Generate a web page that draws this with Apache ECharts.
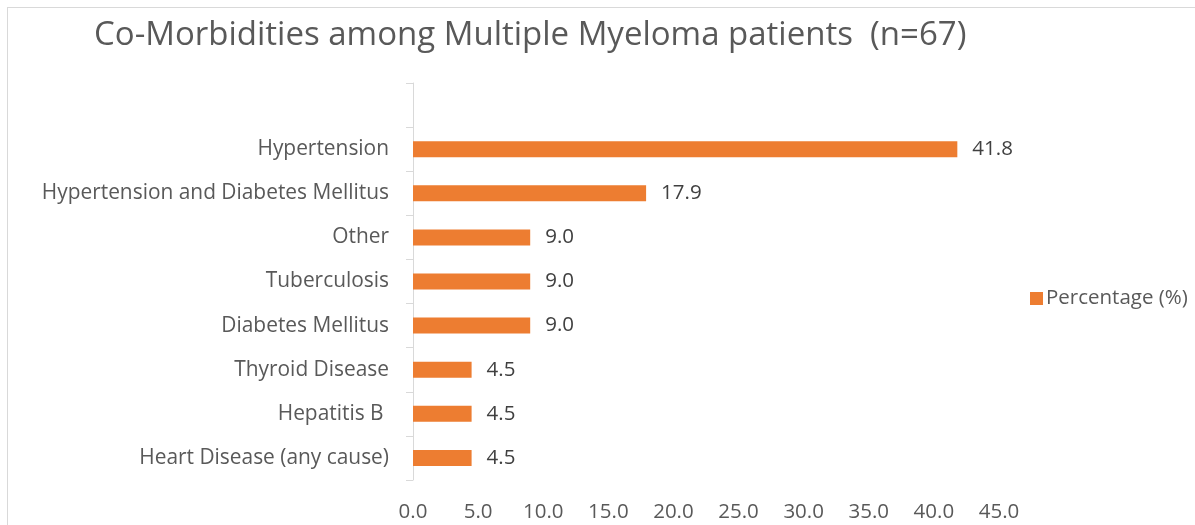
<!DOCTYPE html>
<html><head><meta charset="utf-8">
<script src="https://cdn.jsdelivr.net/npm/echarts@6/dist/echarts.min.js"></script>
<style>
html,body{margin:0;padding:0;background:#fff;overflow:hidden}
#frame{position:absolute;left:7px;top:7px;width:1300px;height:600px;border:1px solid #d9d9d9;box-sizing:border-box}
#c{position:absolute;left:0;top:0;width:1195px;height:525px}
</style></head>
<body><div id="frame"></div><div id="c"></div>
<script>
var title = 'Co-Morbidities among Multiple Myeloma patients  (n=67)';
var seriesName = 'Percentage (%)';
var categories = ['', 'Hypertension', 'Hypertension and Diabetes Mellitus', 'Other', 'Tuberculosis', 'Diabetes Mellitus', 'Thyroid Disease', 'Hepatitis B ', 'Heart Disease (any cause)'];
var values = [null, 41.8, 17.9, 9.0, 9.0, 9.0, 4.5, 4.5, 4.5];
var xMin = 0, xMax = 45, xStep = 5;

var font = 'Open Sans';
var fs = 20.5;
var chart = echarts.init(document.getElementById('c'), null, {renderer:'canvas'});
chart.setOption({
  animation:false,
  backgroundColor:'transparent',
  title:{text:title,left:89,top:14,textStyle:{fontFamily:font,fontSize:33,fontWeight:'normal',color:'#595959'}},
  legend:{data:[seriesName],left:1025,top:283,orient:'vertical',icon:'rect',itemWidth:13,itemHeight:13,itemGap:6,
    textStyle:{fontFamily:font,fontSize:fs,color:'#595959',padding:[0,0,0,-2]}},
  grid:{left:413,right:196,top:83,bottom:45,containLabel:false},
  xAxis:{type:'value',min:xMin,max:xMax,interval:xStep,
    axisLine:{show:false},axisTick:{show:false},splitLine:{show:false},
    axisLabel:{margin:22,fontFamily:font,fontSize:fs,color:'#595959',formatter:function(v){return v.toFixed(1);}}},
  yAxis:{type:'category',data:categories,inverse:true,
    axisLine:{show:true,lineStyle:{color:'#d9d9d9',width:1}},
    axisTick:{show:true,length:7,lineStyle:{color:'#d9d9d9'}},
    axisLabel:{margin:24,fontFamily:font,fontSize:20.9,color:'#595959',padding:[3,0,0,0]}},
  series:[{name:seriesName,type:'bar',data:values,barWidth:16,itemStyle:{color:'#ED7D31'},
    label:{show:true,position:'right',distance:15,fontFamily:font,fontSize:fs,color:'#404040',formatter:function(p){return p.value==null?'':p.value.toFixed(1);}}}]
});
</script></body></html>
